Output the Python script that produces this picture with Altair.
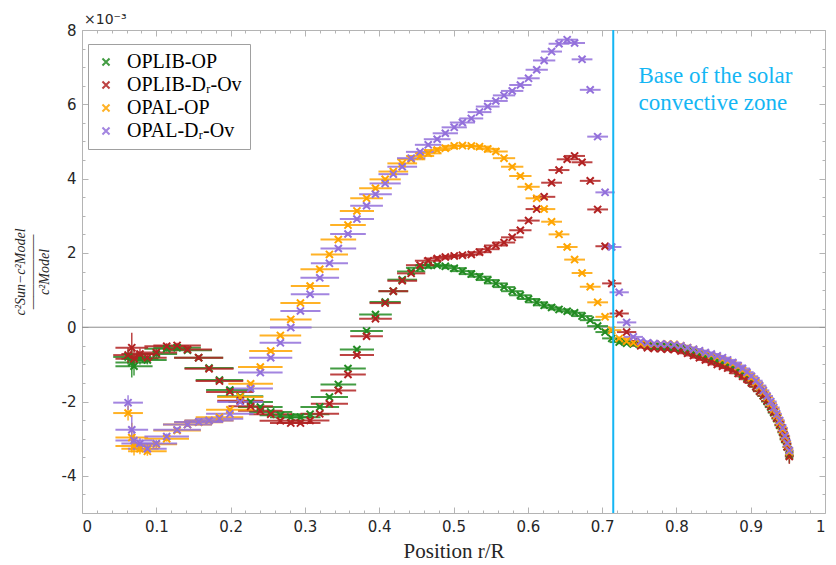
import altair as alt
import pandas as pd

series_names = ["OPLIB-OP", "OPLIB-Dᵣ-Ov", "OPAL-OP", "OPAL-Dᵣ-Ov"]
series_colors = ["#228B22", "#B22222", "#FFA500", "#9370DB"]

# target radii (r/R) and half widths of the localisation kernels
r = [0.062, 0.067, 0.070, 0.078, 0.088, 0.100, 0.114, 0.128, 0.142, 0.157,
     0.171, 0.185, 0.199, 0.213, 0.227, 0.240, 0.254, 0.267, 0.281, 0.294,
     0.307, 0.320, 0.333, 0.345, 0.358, 0.370, 0.383, 0.395, 0.408, 0.419,
     0.431, 0.443, 0.455, 0.466, 0.478, 0.489, 0.501, 0.512, 0.524, 0.535,
     0.546, 0.557, 0.568, 0.579, 0.590, 0.601, 0.612, 0.622, 0.632, 0.642,
     0.653, 0.663, 0.673, 0.684, 0.694, 0.704, 0.713, 0.723, 0.733, 0.742,
     0.752, 0.761, 0.770, 0.779, 0.788, 0.797, 0.806, 0.815, 0.823, 0.831,
     0.839, 0.847, 0.855, 0.862, 0.869, 0.876, 0.883, 0.889, 0.895, 0.901,
     0.907, 0.912, 0.917, 0.922, 0.927, 0.931, 0.935, 0.939, 0.943, 0.946,
     0.949, 0.952]
r_err = [0.020, 0.022, 0.025, 0.025, 0.026, 0.028, 0.030, 0.032, 0.033, 0.033,
         0.033, 0.032, 0.032, 0.031, 0.030, 0.030, 0.029, 0.028, 0.028, 0.027,
         0.026, 0.026, 0.025, 0.024, 0.024, 0.023, 0.022, 0.022, 0.021, 0.020,
         0.020, 0.019, 0.019, 0.018, 0.018, 0.017, 0.017, 0.017, 0.016, 0.016,
         0.016, 0.016, 0.015, 0.015, 0.015, 0.015, 0.015, 0.015, 0.014, 0.014,
         0.014, 0.014, 0.014, 0.014, 0.014, 0.013, 0.013, 0.013, 0.013, 0.013,
         0.013, 0.013, 0.013, 0.012, 0.012, 0.012, 0.012, 0.012, 0.012, 0.011,
         0.011, 0.011, 0.011, 0.011, 0.010, 0.010, 0.010, 0.010, 0.009, 0.009,
         0.009, 0.009, 0.008, 0.008, 0.008, 0.008, 0.007, 0.007, 0.007, 0.007,
         0.006, 0.006]
y_err = [0.20, 0.40, 0.25, 0.15, 0.12, 0.10, 0.08, 0.07, 0.06, 0.06,
         0.05, 0.05, 0.05, 0.05, 0.05, 0.05, 0.05, 0.05, 0.05, 0.05,
         0.05, 0.05, 0.05, 0.05, 0.05, 0.05, 0.05, 0.05, 0.05, 0.05,
         0.05, 0.05, 0.05, 0.05, 0.05, 0.05, 0.05, 0.05, 0.05, 0.05,
         0.05, 0.05, 0.05, 0.05, 0.05, 0.05, 0.05, 0.05, 0.05, 0.05,
         0.05, 0.05, 0.05, 0.05, 0.05, 0.05, 0.05, 0.05, 0.05, 0.04,
         0.04, 0.04, 0.04, 0.04, 0.04, 0.04, 0.04, 0.05, 0.05, 0.05,
         0.05, 0.05, 0.05, 0.06, 0.06, 0.06, 0.06, 0.07, 0.07, 0.07,
         0.07, 0.08, 0.08, 0.09, 0.09, 0.10, 0.10, 0.11, 0.12, 0.13,
         0.15, 0.20]

# (c_sun^2 - c_model^2)/c_model^2 in units of 1e-3
oplib_op = [-0.80, -0.95, -1.05, -0.85, -0.88, -0.72, -0.58, -0.55, -0.62, -0.82,
            -1.10, -1.42, -1.69, -1.86, -2.01, -2.15, -2.28, -2.37, -2.42, -2.42,
            -2.34, -2.15, -1.88, -1.54, -1.11, -0.60, -0.10, 0.34, 0.68, 0.97,
            1.28, 1.50, 1.60, 1.66, 1.67, 1.64, 1.59, 1.51, 1.43, 1.36,
            1.27, 1.18, 1.08, 0.97, 0.86, 0.76, 0.67, 0.59, 0.53, 0.48,
            0.43, 0.39, 0.30, 0.19, 0.03, -0.13, -0.30, -0.40, -0.43, -0.45,
            -0.48, -0.50, -0.52, -0.52, -0.53, -0.55, -0.58, -0.63, -0.68, -0.73,
            -0.79, -0.84, -0.90, -0.96, -1.02, -1.10, -1.18, -1.27, -1.37, -1.48,
            -1.60, -1.72, -1.85, -2.00, -2.15, -2.30, -2.46, -2.64, -2.83, -3.02,
            -3.22, -3.45]
oplib_dr = [-0.75, -0.55, -0.85, -0.72, -0.82, -0.68, -0.51, -0.49, -0.60, -0.82,
            -1.12, -1.45, -1.74, -1.98, -2.13, -2.25, -2.34, -2.52, -2.58, -2.58,
            -2.51, -2.33, -2.06, -1.70, -1.27, -0.75, -0.24, 0.23, 0.65, 0.97,
            1.25, 1.45, 1.67, 1.79, 1.85, 1.89, 1.92, 1.94, 1.96, 2.02,
            2.10, 2.20, 2.28, 2.42, 2.61, 2.87, 3.18, 3.51, 3.89, 4.23,
            4.52, 4.61, 4.44, 3.94, 3.17, 2.18, 1.18, 0.37, -0.13, -0.40,
            -0.50, -0.55, -0.57, -0.58, -0.59, -0.60, -0.64, -0.70, -0.76, -0.82,
            -0.88, -0.94, -1.00, -1.05, -1.10, -1.16, -1.24, -1.32, -1.40, -1.50,
            -1.60, -1.72, -1.84, -1.98, -2.13, -2.28, -2.44, -2.62, -2.81, -3.00,
            -3.22, -3.48]
opal_op = [-2.31, -2.97, -3.20, -3.27, -3.34, -3.15, -3.00, -2.78, -2.62, -2.56,
           -2.51, -2.42, -2.22, -1.88, -1.52, -1.07, -0.64, -0.22, 0.21, 0.65,
           1.11, 1.56, 1.96, 2.36, 2.75, 3.13, 3.47, 3.74, 3.98, 4.19,
           4.41, 4.52, 4.61, 4.68, 4.77, 4.82, 4.88, 4.89, 4.88, 4.86,
           4.80, 4.73, 4.55, 4.32, 4.07, 3.78, 3.47, 3.18, 2.84, 2.50,
           2.16, 1.82, 1.46, 1.09, 0.67, 0.28, -0.08, -0.30, -0.38, -0.42,
           -0.44, -0.45, -0.45, -0.45, -0.45, -0.46, -0.50, -0.55, -0.60, -0.65,
           -0.70, -0.75, -0.80, -0.86, -0.92, -0.98, -1.06, -1.15, -1.25, -1.36,
           -1.48, -1.60, -1.74, -1.88, -2.04, -2.20, -2.37, -2.55, -2.75, -2.95,
           -3.15, -3.35]
opal_dr = [-2.03, -2.76, -3.05, -3.13, -3.27, -3.13, -2.94, -2.76, -2.62, -2.55,
           -2.51, -2.46, -2.33, -2.01, -1.65, -1.22, -0.82, -0.42, -0.01, 0.44,
           0.89, 1.33, 1.72, 2.12, 2.51, 2.91, 3.27, 3.58, 3.87, 4.12,
           4.32, 4.55, 4.72, 4.91, 5.06, 5.22, 5.38, 5.51, 5.62, 5.79,
           5.94, 6.09, 6.24, 6.36, 6.52, 6.70, 6.93, 7.18, 7.42, 7.63,
           7.74, 7.65, 7.21, 6.39, 5.13, 3.63, 2.16, 0.94, 0.13, -0.26,
           -0.38, -0.42, -0.44, -0.45, -0.46, -0.47, -0.50, -0.55, -0.59, -0.63,
           -0.68, -0.72, -0.77, -0.82, -0.88, -0.95, -1.03, -1.11, -1.21, -1.32,
           -1.44, -1.57, -1.70, -1.85, -2.00, -2.16, -2.33, -2.51, -2.71, -2.92,
           -3.12, -3.32]

x_major = [0, 0.1, 0.2, 0.3, 0.4, 0.5, 0.6, 0.7, 0.8, 0.9, 1]
x_minor = [0.02, 0.04, 0.06, 0.08, 0.12, 0.14, 0.16, 0.18, 0.22, 0.24, 0.26, 0.28,
           0.32, 0.34, 0.36, 0.38, 0.42, 0.44, 0.46, 0.48, 0.52, 0.54, 0.56, 0.58,
           0.62, 0.64, 0.66, 0.68, 0.72, 0.74, 0.76, 0.78, 0.82, 0.84, 0.86, 0.88,
           0.92, 0.94, 0.96, 0.98]
y_major = [-4, -2, 0, 2, 4, 6, 8]
y_minor = [-4.5, -3.5, -3, -2.5, -1.5, -1, -0.5, 0.5, 1, 1.5, 2.5, 3, 3.5,
           4.5, 5, 5.5, 6.5, 7, 7.5]

bcz_r = 0.715
bcz_label = "Base of the solar\nconvective zone"

# ---------------------------------------------------------------
rows = []
for name, vals in zip(series_names, [oplib_op, oplib_dr, opal_op, opal_dr]):
    for xi, xe, yi, ye in zip(r, r_err, vals, y_err):
        rows.append({"series": name, "r": xi, "r_lo": xi - xe, "r_hi": xi + xe,
                     "val": yi, "lo": yi - ye, "hi": yi + ye})
df = pd.DataFrame(rows)

W, H = 743, 483
FRAME = "#b4b4b4"
BCZ = "#14B6F4"
XMARK = "M-1,-1L1,1M-1,1L1,-1"

xs = alt.Scale(domain=[0, 1], nice=False, zero=False)
ys = alt.Scale(domain=[-5, 8], nice=False, zero=False)
cscale = alt.Scale(domain=series_names, range=series_colors)

legend = alt.Legend(
    title=None, orient="none", legendX=6, legendY=14, direction="vertical",
    labelFont="Liberation Serif", labelFontSize=20, labelColor="#000000",
    symbolType=XMARK, symbolSize=50, symbolStrokeWidth=2,
    fillColor="white", strokeColor="#a0a0a0", padding=8, rowPadding=3,
    labelOffset=11)


def tick_axis(values, orient, offset, size):
    return alt.Axis(values=values, orient=orient, offset=offset, labels=False,
                    domain=False, grid=False, ticks=True, tickSize=size,
                    tickColor=FRAME, tickWidth=1, title=None)


anchor = pd.DataFrame({"x": [0.5], "y": [0.0]})


def axis_layer(xax, yax):
    return alt.Chart(anchor).mark_point(opacity=0).encode(
        x=alt.X("x:Q", scale=xs, axis=xax),
        y=alt.Y("y:Q", scale=ys, axis=yax),
    )


# inward ticks on the four sides (major and minor)
ax1 = axis_layer(tick_axis(x_major, "top", -H, 6), tick_axis(y_major, "right", -W, 6))
ax2 = axis_layer(tick_axis(x_minor, "top", -H, 3), tick_axis(y_minor, "right", -W, 3))
ax3 = axis_layer(tick_axis(x_major, "bottom", -H, 6), tick_axis(y_major, "left", -W, 6))
ax4 = axis_layer(tick_axis(x_minor, "bottom", -H, 3), tick_axis(y_minor, "left", -W, 3))

zero = alt.Chart(pd.DataFrame({"y": [0.0]})).mark_rule(color="#8c8c8c", strokeWidth=1).encode(
    y=alt.Y("y:Q", scale=ys, axis=None)
)

xerr = alt.Chart(df).mark_rule(strokeWidth=2, opacity=0.85).encode(
    x=alt.X("r_lo:Q", scale=xs, axis=None),
    x2="r_hi:Q",
    y=alt.Y("val:Q", scale=ys, axis=None),
    color=alt.Color("series:N", scale=cscale, legend=legend),
)
yerr = alt.Chart(df).mark_rule(strokeWidth=1.5, opacity=0.85).encode(
    x=alt.X("r:Q", scale=xs, axis=None),
    y=alt.Y("lo:Q", scale=ys, axis=None),
    y2="hi:Q",
    color=alt.Color("series:N", scale=cscale, legend=legend),
)

points = alt.Chart(df).mark_point(shape=XMARK, filled=False, strokeWidth=2, size=50, opacity=1).encode(
    x=alt.X("r:Q", scale=xs, axis=alt.Axis(
        values=x_major, labelExpr="toString(datum.value)", ticks=False, domain=False, grid=False,
        labelFont="DejaVu Sans", labelFontSize=15, labelColor="#262626", labelPadding=6,
        title="Position r/R", titleFont="Liberation Serif", titleFontSize=21,
        titleFontWeight="normal", titleColor="#262626", titlePadding=6)),
    y=alt.Y("val:Q", scale=ys, axis=alt.Axis(
        values=y_major, labelExpr="toString(datum.value)", ticks=False, domain=False, grid=False,
        labelFont="DejaVu Sans", labelFontSize=15, labelColor="#262626", labelPadding=6,
        title=["c²Sun−c²Model", "——————", "c²Model"], titleFont="Liberation Serif",
        titleFontStyle="italic", titleFontSize=14, titleFontWeight="normal",
        titleLineHeight=12, titleColor="#262626", titlePadding=10)),
    color=alt.Color("series:N", scale=cscale, legend=legend),
)

bcz = alt.Chart(pd.DataFrame({"x": [bcz_r]})).mark_rule(color=BCZ, strokeWidth=2).encode(
    x=alt.X("x:Q", scale=xs, axis=None)
)

bcz_text = alt.Chart(pd.DataFrame({"x": [0.749], "y": [6.77], "t": [bcz_label]})).mark_text(
    align="left", baseline="middle", lineBreak="\n", font="Liberation Serif",
    fontSize=23, lineHeight=27, color=BCZ
).encode(
    x=alt.X("x:Q", scale=xs, axis=None),
    y=alt.Y("y:Q", scale=ys, axis=None),
    text="t:N",
)

expo = alt.Chart(pd.DataFrame({"x": [0.0], "y": [8.0], "t": ["×10⁻³"]})).mark_text(
    align="left", baseline="alphabetic", dx=2, dy=-6, font="DejaVu Sans",
    fontSize=14, color="#262626"
).encode(
    x=alt.X("x:Q", scale=xs, axis=None),
    y=alt.Y("y:Q", scale=ys, axis=None),
    text="t:N",
)

chart = alt.layer(
    zero, ax1, ax2, ax3, ax4, xerr, yerr, points, bcz, bcz_text, expo
).resolve_axis(
    x="independent", y="independent"
).properties(
    width=W, height=H,
    padding={"left": 82, "top": 30, "right": 11, "bottom": 52},
    autosize=alt.AutoSizeParams(type="none"),
    background="white",
).configure_view(
    stroke=FRAME, strokeWidth=1
)

chart.save("out.html", embed_options={"renderer": "svg", "actions": False})
